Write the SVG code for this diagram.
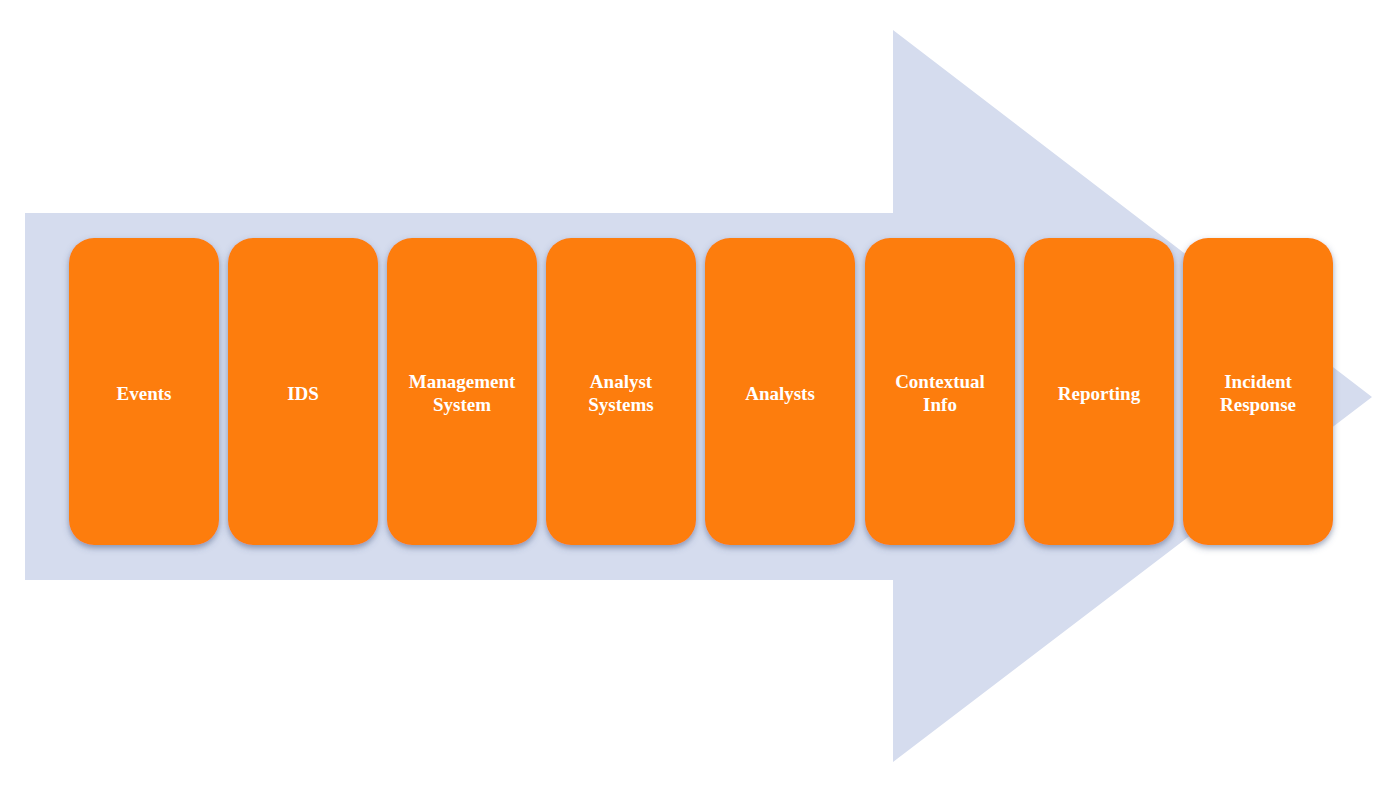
<svg xmlns="http://www.w3.org/2000/svg" width="1400" height="788" viewBox="0 0 1400 788">
<defs>
<filter id="sh" x="-20%" y="-20%" width="140%" height="140%">
<feDropShadow dx="0" dy="3" stdDeviation="3" flood-color="#4a5a80" flood-opacity="0.55"/>
</filter>
<style>
.box{fill:#fd7d0d;filter:url(#sh);}
.lbl{fill:#ffffff;font-family:"Liberation Serif","DejaVu Serif",serif;font-size:19px;font-weight:bold;text-anchor:middle;}
</style>
</defs>
<rect width="1400" height="788" fill="#ffffff"/>
<polygon id="arrow" points="25,213 893,213 893,30 1372,397 893,762 893,580 25,580" fill="#d5dcee"/>
<g id="connectors"/>
<g id="n1"><rect class="box" x="69" y="238" width="150" height="307" rx="25"/><text class="lbl" x="144" y="400">Events</text></g>
<g id="n2"><rect class="box" x="228" y="238" width="150" height="307" rx="25"/><text class="lbl" x="303" y="400">IDS</text></g>
<g id="n3"><rect class="box" x="387" y="238" width="150" height="307" rx="25"/><text class="lbl" x="462" y="388">Management</text><text class="lbl" x="462" y="411">System</text></g>
<g id="n4"><rect class="box" x="546" y="238" width="150" height="307" rx="25"/><text class="lbl" x="621" y="388">Analyst</text><text class="lbl" x="621" y="411">Systems</text></g>
<g id="n5"><rect class="box" x="705" y="238" width="150" height="307" rx="25"/><text class="lbl" x="780" y="400">Analysts</text></g>
<g id="n6"><rect class="box" x="865" y="238" width="150" height="307" rx="25"/><text class="lbl" x="940" y="388">Contextual</text><text class="lbl" x="940" y="411">Info</text></g>
<g id="n7"><rect class="box" x="1024" y="238" width="150" height="307" rx="25"/><text class="lbl" x="1099" y="400">Reporting</text></g>
<g id="n8"><rect class="box" x="1183" y="238" width="150" height="307" rx="25"/><text class="lbl" x="1258" y="388">Incident</text><text class="lbl" x="1258" y="411">Response</text></g>
</svg>
